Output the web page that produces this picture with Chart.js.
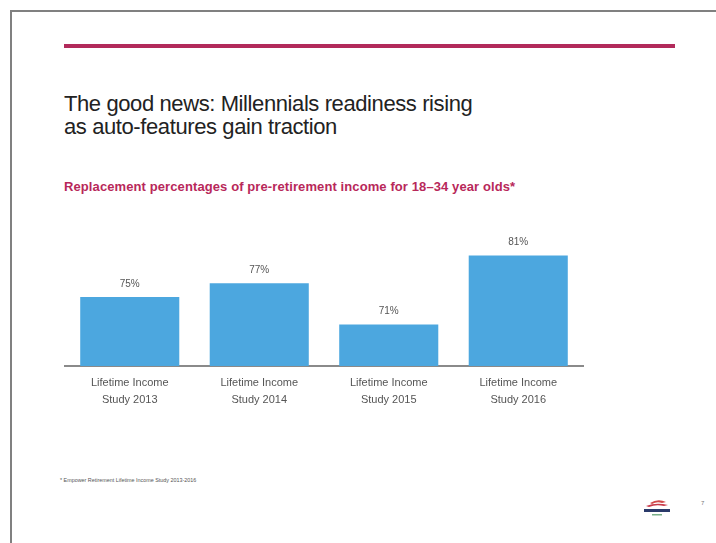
<!DOCTYPE html>
<html>
<head>
<meta charset="utf-8">
<script src="https://cdn.jsdelivr.net/npm/chart.js@4/dist/chart.umd.min.js"></script>
<style>
  html, body { margin: 0; padding: 0; background: #fff; }
  #page { position: relative; width: 716px; height: 543px; overflow: hidden; font-family: 'Liberation Sans', Arial, sans-serif; }
  #frameTop { position: absolute; left: 10px; top: 10px; width: 706px; height: 2px; background: #808080; }
  #frameLeft { position: absolute; left: 10px; top: 10px; width: 2px; height: 533px; background: #808080; }
  #rule { position: absolute; left: 64px; top: 44px; width: 611px; height: 4px; background: #b22a5b; }
  #title { position: absolute; left: 64px; top: 92px; font-size: 22px; line-height: 23px; color: #222; letter-spacing: -0.4px; }
  #subtitle { position: absolute; left: 64px; top: 179px; font-size: 13px; font-weight: bold; color: #b8285a; letter-spacing: 0.1px; }
  #foot { position: absolute; left: 60px; top: 477px; font-size: 5.4px; color: #555; }
  #pnum { position: absolute; left: 701px; top: 500px; font-size: 6px; color: #777; }
  #logo { position: absolute; left: 638px; top: 497px; width: 40px; height: 22px; }
  #c { position: absolute; left: 0; top: 0; }
</style>
</head>
<body>
<div id="page">
  <div id="frameTop"></div>
  <div id="frameLeft"></div>
  <div id="rule"></div>
  <div id="title">The good news: Millennials readiness rising<br>as auto-features gain traction</div>
  <div id="subtitle">Replacement percentages of pre-retirement income for 18–34 year olds*</div>
  <div id="foot">* Empower Retirement Lifetime Income Study 2013-2016</div>
  <svg id="logo" viewBox="0 0 40 22">
    <path d="M12 6 Q20 1 28 5 L24 6 Q19 4 14 7 Z" fill="#d04a4a"/>
    <path d="M8 9 Q18 5 30 8 L26 9 Q18 7 11 10 Z" fill="#c83a4a"/>
    <rect x="6" y="12" width="26" height="3" fill="#2a3a6a"/>
    <rect x="14" y="17" width="10" height="1.5" fill="#7ab08a"/>
  </svg>
  <div id="pnum">7</div>
  <canvas id="c" width="716" height="543"></canvas>
</div>
<script>
const categories = [
  ["Lifetime Income", "Study 2013"],
  ["Lifetime Income", "Study 2014"],
  ["Lifetime Income", "Study 2015"],
  ["Lifetime Income", "Study 2016"]
];
const values = [75, 77, 71, 81];
const valueLabels = ["75%", "77%", "71%", "81%"];

const labelPlugin = {
  id: 'valueLabels',
  afterDatasetsDraw(chart) {
    const ctx = chart.ctx;
    const meta = chart.getDatasetMeta(0);
    ctx.save();
    ctx.font = "10px 'Liberation Sans Narrow', 'Liberation Sans', Arial, sans-serif";
    ctx.fillStyle = '#555';
    ctx.textAlign = 'center';
    ctx.textBaseline = 'bottom';
    meta.data.forEach((bar, i) => {
      ctx.fillText(valueLabels[i], bar.x, bar.y - 8);
    });
    ctx.restore();
  }
};

new Chart(document.getElementById('c'), {
  type: 'bar',
  data: {
    labels: categories,
    datasets: [{
      data: values,
      backgroundColor: '#4ca7df',
      borderWidth: 0,
      barPercentage: 0.765,
      categoryPercentage: 1.0
    }]
  },
  options: {
    responsive: false,
    animation: false,
    events: [],
    layout: { padding: { left: 65, right: 133, top: 228, bottom: 127 } },
    plugins: { legend: { display: false }, tooltip: { enabled: false }, title: { display: false } },
    scales: {
      y: {
        display: false,
        min: 65,
        max: 85
      },
      x: {
        grid: { display: false, drawTicks: false },
        border: { display: true, color: '#8a8a8a', width: 2 },
        ticks: {
          padding: 9,
          color: '#555',
          font: { family: "'Liberation Sans Narrow', 'Liberation Sans', Arial, sans-serif", size: 11, lineHeight: 1.5 }
        },
        afterFit(scale) { scale.height = 50; }
      }
    }
  },
  plugins: [labelPlugin]
});
</script>
</body>
</html>
